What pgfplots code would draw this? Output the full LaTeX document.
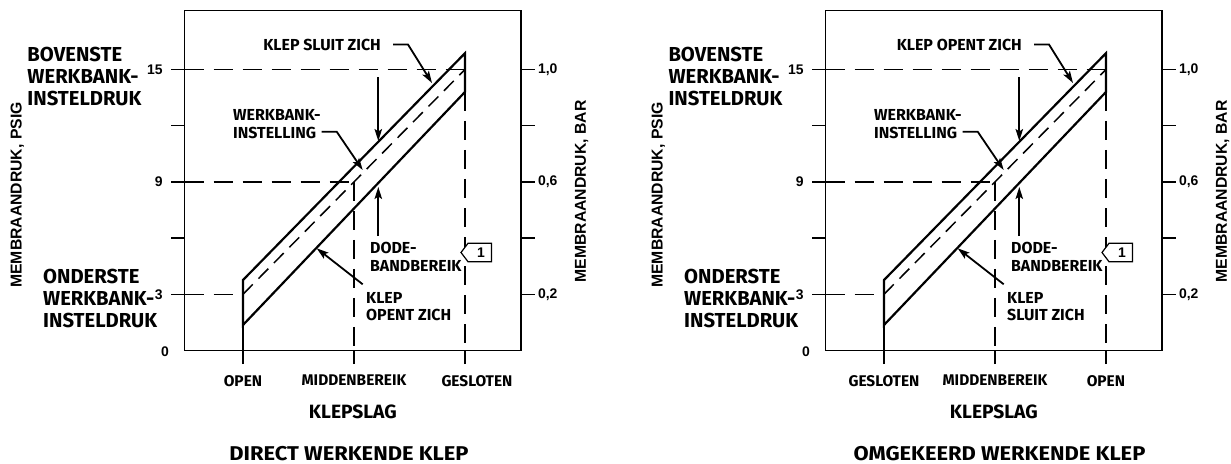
\documentclass[border=0pt]{standalone}
\usepackage{fontspec}
\setmainfont{Fira Sans}
\newfontfamily\arialfont{Liberation Sans}
\usepackage{pgfplots}
\pgfplotsset{compat=1.18}
\usetikzlibrary{arrows.meta}

\newcommand\fbig{\fontsize{20.3}{22.2}\selectfont\bfseries}
\newcommand\fxlab{\fontsize{19.3}{22}\selectfont\bfseries}
\newcommand\ftitle{\fontsize{20}{22}\selectfont\bfseries\addfontfeature{FakeStretch=1.1}}
\newcommand\fmid{\fontsize{16}{17.5}\selectfont\bfseries}
\newcommand\ftick{\fontsize{15.5}{17}\selectfont\bfseries}
\newcommand\fnum{\arialfont\fontsize{14}{16}\selectfont\bfseries}
\newcommand\flab{\arialfont\fontsize{15.8}{18}\selectfont\bfseries}

\pgfplotsset{
  valve/.style={
    scale only axis, width=336.3bp, height=339.8bp,
    xmin=-0.525, xmax=2.505, ymin=0, ymax=18.14,
    axis line style={line width=1.3bp},
    tick style={line width=1.3bp, black},
    tick align=outside, major tick length=13.5bp,
    ytick={3,6,9,12,15},
    anchor=south west,
  },
  refl/.style={line width=1.3bp, dash pattern=on 19bp off 10bp, mark=none, black},
}

\newcommand\valvepanel[6]{%
\begin{axis}[valve, at={(#1bp+184.7bp,-350.5bp)},
  xtick={0,1,2}, xticklabels={#2}, xtick pos=bottom, ytick pos=left,
  yticklabels={3,{},9,{},15},
  yticklabel style={font=\fnum, xshift=-5bp},
  xticklabel style={font=\ftick, yshift=-7.7bp},
  xlabel={KLEPSLAG},
  xlabel style={font=\fxlab, at={(axis description cs:0.5,0)}, anchor=center, yshift=-61.2bp},
]
\addplot[refl] coordinates {(-0.525,15) (2,15)};
\addplot[refl] coordinates {(-0.525,9) (1,9)};
\addplot[refl] coordinates {(-0.525,3) (0,3)};
\addplot[refl] coordinates {(1,9) (1,0)};
\addplot[refl] coordinates {(2,13.8) (2,0)};
\addplot[line width=1.2bp, mark=none, black] coordinates {(0,1.36) (0,0)};
\addplot[line width=1.5bp, dash pattern=on 14bp off 8bp, mark=none, black] coordinates {(0,3) (2,15)};
\addplot[line width=2.2bp, line join=miter, mark=none, black] coordinates {(0,1.36) (0,3.76) (2,15.87) (2,13.8)} -- cycle;
\end{axis}
\begin{axis}[valve, at={(#1bp+184.7bp,-350.5bp)},
  xtick=\empty, ytick pos=right, yticklabel pos=right,
  yticklabels={{0,2},{},{0,6},{},{1,0}},
  yticklabel style={font=\fnum},
]
\end{axis}
\begin{scope}[x=1bp,y=-1bp,xshift=#1bp]
\node[font=\flab, rotate=90] at (17.3,195) {MEMBRAANDRUK, PSIG};
\node[font=\flab, rotate=90] at (581.7,191.5) {MEMBRAANDRUK, BAR};
\node[font=\fnum, anchor=east, inner sep=0pt] at (169,351.2) {0};
\node[font=\fbig, anchor=west, align=left, inner sep=0pt] at (27.3,76.2) {BOVENSTE\\WERKBANK-\\INSTELDRUK};
\node[font=\fbig, anchor=west, align=left, inner sep=0pt] at (43,298.3) {ONDERSTE\\WERKBANK-\\INSTELDRUK};
\node[font=\fmid, anchor=east, inner sep=0pt] at (381,45) {#3};
\node[font=\fmid, anchor=west, align=left, inner sep=0pt] at (233,123.9) {WERKBANK-\\INSTELLING};
\node[font=\fmid, anchor=west, align=left, inner sep=0pt] at (370,257) {DODE-\\BANDBEREIK};
\node[font=\fmid, anchor=west, align=left, inner sep=0pt] at (366,306.6) {#4};
\node[font=\ftitle] at (#6,453.3) {#5};
\begin{scope}[line width=1.8bp, arr/.style={-{Stealth[length=12bp,width=7.5bp,inset=2.5bp]}}]
\draw[arr] (393,44.5) -- (408,44.5) -- (432,83);
\draw[arr] (378.3,77) -- (378.3,141);
\draw[arr] (321.7,131.7) -- (336.7,131.7) -- (362.7,170);
\draw[arr] (378.3,236) -- (378.3,187);
\draw[arr] (362.7,284.3) -- (316.7,248.3);
\end{scope}
\draw[line width=1.2bp, fill=white] (461,252.5) -- (468,243.3) -- (491.5,243.3) -- (491.5,261.7) -- (468,261.7) -- cycle;
\node[font=\fnum] at (481,252.5) {1};
\end{scope}
}

\begin{document}
\begin{tikzpicture}
\useasboundingbox (0,0) rectangle (1231bp,-464bp);
\valvepanel{0}{OPEN,MIDDENBEREIK,\hspace*{24bp}GESLOTEN}{KLEP SLUIT ZICH}{KLEP\\OPENT ZICH}{DIRECT WERKENDE KLEP}{349}
\valvepanel{641}{GESLOTEN,MIDDENBEREIK,OPEN}{KLEP OPENT ZICH}{KLEP\\SLUIT ZICH}{OMGEKEERD WERKENDE KLEP}{358.5}
\end{tikzpicture}
\end{document}
